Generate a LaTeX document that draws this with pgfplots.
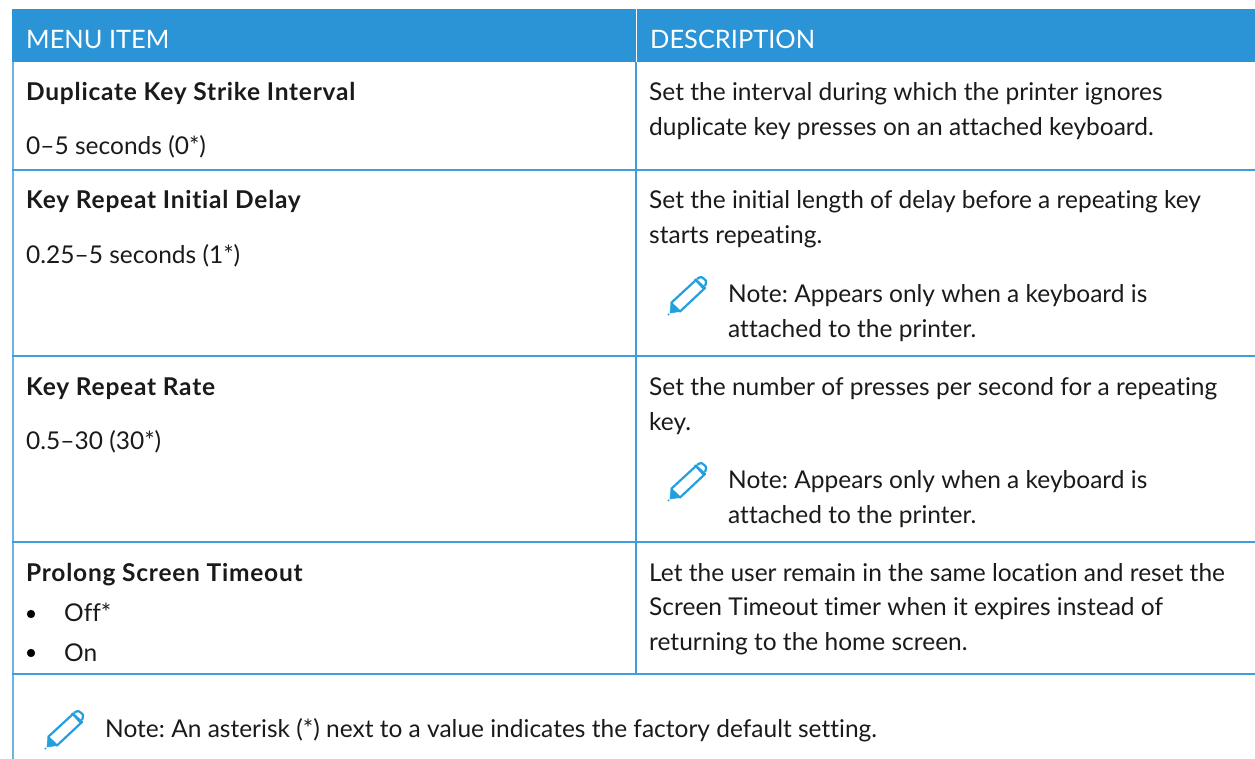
\documentclass[border=0pt]{standalone}
\usepackage{pgfplots}
\pgfplotsset{compat=1.18}
\usepackage{fontspec}
\setmainfont{Lato}[Ligatures=NoCommon]
\frenchspacing
\definecolor{hdr}{HTML}{2B94D6}
\definecolor{rule}{HTML}{3D9FDD}
\definecolor{lft}{HTML}{6CB4E0}
\definecolor{ico}{HTML}{239FE0}
\definecolor{ink}{HTML}{1A1A1A}
\newcommand{\T}[3]{\node[anchor=base west,inner sep=0pt,text=ink,font=\fontsize{24.5}{28}\selectfont] at (axis cs:#1,#2) {#3};}
\newcommand{\B}[3]{\node[anchor=base west,inner sep=0pt,text=ink,font=\fontsize{24.5}{28}\selectfont\bfseries\addfontfeature{LetterSpace=3.1}] at (axis cs:#1,#2) {#3};}
\newcommand{\HH}[2]{\node[anchor=base west,inner sep=0pt,text=white,font=\fontsize{25.4}{30}\selectfont] at (axis cs:#1,48.5) {#2};}
\newcommand{\Ln}[5]{\addplot[#1,line width=#2,forget plot] coordinates {(#3,#4) #5};}
\newcommand{\icon}[2]{%
\addplot[ico,line width=2.2pt,line join=round,forget plot] table[row sep=crcr,x expr=\thisrow{x}+#1,y expr=\thisrow{y}+#2] {x y\\ 3 -12\\ 28 -35\\ 37 -27\\ 12 -3.5\\ 3 -12\\};
\addplot[ico,line width=2.2pt,forget plot] table[row sep=crcr,x expr=\thisrow{x}+#1,y expr=\thisrow{y}+#2] {x y\\ 27 -36\\ 36 -26\\};
\addplot[ico,line width=2.2pt,smooth,forget plot] table[row sep=crcr,x expr=\thisrow{x}+#1,y expr=\thisrow{y}+#2] {x y\\ 29 -36\\ 33 -38\\ 38 -34\\ 37 -29\\};
\addplot[ico,fill=ico,line width=0.6pt,forget plot] table[row sep=crcr,x expr=\thisrow{x}+#1,y expr=\thisrow{y}+#2] {x y\\ 3 -12\\ 12 -3.5\\ 2 -2\\ 3 -12\\};
\addplot[ico,line width=1.6pt,forget plot] table[row sep=crcr,x expr=\thisrow{x}+#1,y expr=\thisrow{y}+#2] {x y\\ 0 0\\ 1 -1\\};
}
\begin{document}
\begin{tikzpicture}
\begin{axis}[
  scale only axis,width=1255pt,height=759pt,
  xmin=0,xmax=1255,ymin=0,ymax=759,y dir=reverse,
  axis line style={draw=none},ticks=none,clip=true]
\addplot[draw=none,fill=hdr,forget plot] coordinates {(12,9) (1255,9) (1255,62) (12,62)} --cycle;
\Ln{white}{1pt}{636}{9}{(636,62)}
\Ln{lft}{1.9pt}{12.8}{62}{(12.8,759)}
\Ln{rule}{1.7pt}{636}{62}{(636,674)}
\Ln{rule}{1.7pt}{12}{170}{(1255,170)}
\Ln{rule}{1.7pt}{12}{356}{(1255,356)}
\Ln{rule}{1.7pt}{12}{542}{(1255,542)}
\Ln{rule}{1.7pt}{12}{674}{(1255,674)}
\addplot[only marks,mark=*,mark size=3.9pt,color=black,forget plot] coordinates {(31,614) (31,653)};
\HH{26}{MENU ITEM}
\HH{650}{DESCRIPTION}
\B{26}{101}{Duplicate Key Strike Interval}
\T{26}{155}{0–5 seconds (0*)}
\B{26}{209}{Key Repeat Initial Delay}
\T{26}{264}{0.25–5 seconds (1*)}
\B{26}{395}{Key Repeat Rate}
\T{26}{449}{0.5–30 (30*)}
\B{26}{581}{Prolong Screen Timeout}
\T{64}{621}{Off*}
\T{64}{661}{On}
\T{649}{101}{Set the interval during which the printer ignores}
\T{649}{136}{duplicate key presses on an attached keyboard.}
\T{649}{209}{Set the initial length of delay before a repeating key}
\T{649}{244}{starts repeating.}
\T{728}{302}{Note: Appears only when a keyboard is}
\T{728}{337}{attached to the printer.}
\T{649}{395}{Set the number of presses per second for a repeating}
\T{649}{430}{key.}
\T{728}{488}{Note: Appears only when a keyboard is}
\T{728}{523}{attached to the printer.}
\T{649}{581}{Let the user remain in the same location and reset the}
\T{649}{615}{Screen Timeout timer when it expires instead of}
\T{649}{650}{returning to the home screen.}
\T{105}{737}{Note: An asterisk (*) next to a value indicates the factory default setting.}
\icon{668}{315}
\icon{668}{501}
\icon{45}{749}
\end{axis}
\end{tikzpicture}
\end{document}
